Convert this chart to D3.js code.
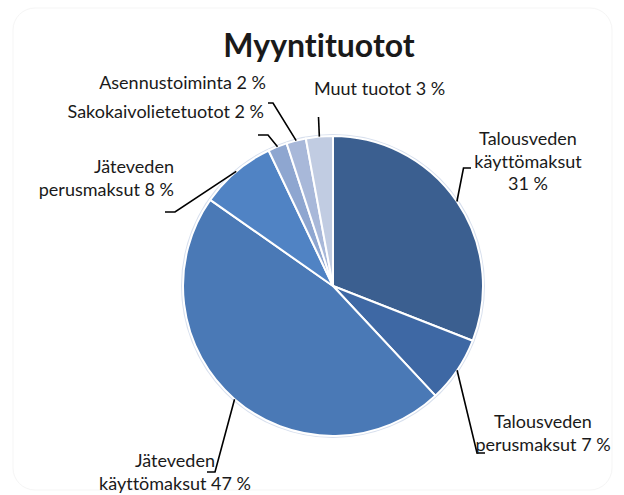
<!DOCTYPE html>
<html>
<head>
<meta charset="utf-8">
<script src="https://cdn.jsdelivr.net/npm/d3@7"></script>
<style>
  body { margin: 0; background: #fff; }
  svg text { font-family: Lato, "Open Sans", sans-serif; fill: #1a1a1a; font-variant-ligatures: none; }
</style>
</head>
<body>
<div id="chart"></div>
<script>
// slices in clockwise order from 12 o'clock
const categories = [
    'Talousveden käyttömaksut',
    'Talousveden perusmaksut',
    'Jäteveden käyttömaksut',
    'Jäteveden perusmaksut',
    'Sakokaivolietetuotot',
    'Asennustoiminta',
    'Muut tuotot'
];
const values = [30.95, 7.1, 46.7, 8.2, 2.06, 2.1, 2.9];
const percentLabels = ['31 %', '7 %', '47 %', '8 %', '2 %', '2 %', '3 %'];
// how each label text is broken into lines
const labelLines = [
    ['Talousveden', 'käyttömaksut', '31 %'],
    ['Talousveden', 'perusmaksut 7 %'],
    ['Jäteveden', 'käyttömaksut 47 %'],
    ['Jäteveden', 'perusmaksut 8 %'],
    ['Sakokaivolietetuotot 2 %'],
    ['Asennustoiminta 2 %'],
    ['Muut tuotot 3 %']
];
const colors = ['#3b5f90', '#3e68a4', '#4a79b6', '#5083c4', '#8ea6d0', '#a8b8d9', '#c1cce2'];

const width = 624;
const height = 495;
const cx = 333, cy = 286, radius = 150;

// label layout: text anchor point, alignment, and leader elbow points
const labelLayout = [
    { x: 528, y: 145, anchor: 'middle', leader: [[463.5, 168], [471, 168]] },
    { x: 543, y: 428, anchor: 'middle', leader: [[477, 453], [485, 453]] },
    { x: 175, y: 467, anchor: 'middle', leader: [[215, 472], [207, 472]] },
    { x: 174, y: 173, anchor: 'end', leader: [[175, 212], [165, 212]] },
    { x: 264, y: 118, anchor: 'end', leader: [[268, 135], [258, 135]] },
    { x: 266, y: 89, anchor: 'end', leader: [[273, 103], [268, 103]] },
    { x: 314, y: 95, anchor: 'start', leader: [[318.5, 117]] }
];

const svg = d3.select('#chart')
    .append('svg')
    .attr('width', width)
    .attr('height', height);

svg.append('rect')
    .attr('x', 13).attr('y', 8)
    .attr('width', 599).attr('height', 482)
    .attr('rx', 22)
    .attr('fill', 'none')
    .attr('stroke', '#f5f5f5');

svg.append('text')
    .attr('x', 319)
    .attr('y', 57)
    .attr('text-anchor', 'middle')
    .style('font-size', '32px')
    .style('font-weight', 'bold')
    .text('Myyntituotot');

const slices = categories.map((c, i) => ({ name: c, value: values[i], idx: i }));

const pie = d3.pie()
    .sort(null)
    .value(d => d.value);

const arc = d3.arc()
    .innerRadius(0)
    .outerRadius(radius);

const arcs = pie(slices);

const g = svg.append('g')
    .attr('transform', `translate(${cx},${cy})`);

// soft outline around the pie
g.append('circle')
    .attr('r', radius + 1)
    .attr('fill', 'none')
    .attr('stroke', '#d8e0ee')
    .attr('stroke-width', 2);

g.selectAll('path.slice')
    .data(arcs)
    .join('path')
    .attr('class', 'slice')
    .attr('d', arc)
    .attr('fill', d => colors[d.data.idx])
    .attr('stroke', '#fff')
    .attr('stroke-width', 2)
    .attr('stroke-linejoin', 'round');

// leader lines start at the middle of each slice's outer edge
arcs.forEach((d, i) => {
    const mid = (d.startAngle + d.endAngle) / 2;
    const start = [cx + radius * Math.sin(mid), cy - radius * Math.cos(mid)];
    const pts = [start, ...labelLayout[i].leader];
    svg.append('path')
        .attr('d', d3.line()(pts))
        .attr('fill', 'none')
        .attr('stroke', '#000')
        .attr('stroke-width', 1.6);
});

const labels = svg.selectAll('text.label')
    .data(labelLayout)
    .join('text')
    .attr('class', 'label')
    .attr('text-anchor', d => d.anchor)
    .style('font-size', '18px');

labels.each(function (d, i) {
    const t = d3.select(this);
    labelLines[i].forEach((line, j) => {
        t.append('tspan')
            .attr('x', d.x)
            .attr('y', d.y + j * 22.5)
            .text(line);
    });
});
</script>
</body>
</html>
